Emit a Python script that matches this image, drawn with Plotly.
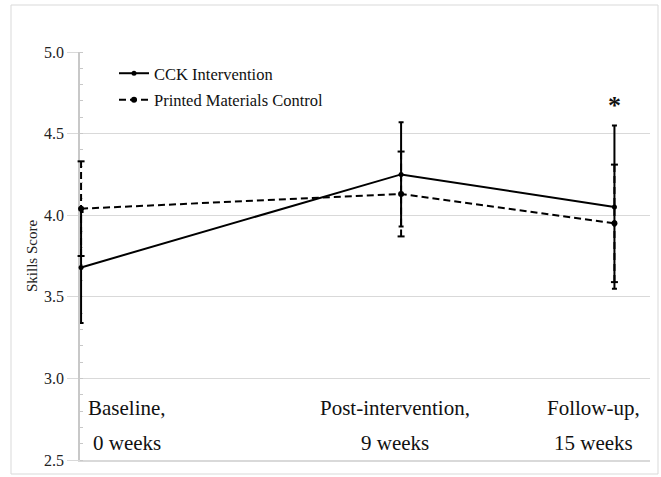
import plotly.graph_objects as go

# ---- data ----
weeks = [0, 9, 15]
label_line1 = ["Baseline,", "Post-intervention,", "Follow-up,"]
label_line2 = ["0 weeks", "9 weeks", "15 weeks"]
cck_mean = [3.68, 4.25, 4.05]
cck_err = [0.34, 0.32, 0.50]
pmc_mean = [4.04, 4.13, 3.95]
pmc_err = [0.29, 0.26, 0.36]
series_names = ["CCK Intervention", "Printed Materials Control"]
y_ticks = [2.5, 3.0, 3.5, 4.0, 4.5, 5.0]
signif_week = 15
signif_mark = "*"

FONT = "Liberation Serif"
GRID = "#d9d9d9"

# dashed error bar segments for PMC (built from data)
pmc_ex, pmc_ey = [], []
for w, m, e in zip(weeks, pmc_mean, pmc_err):
    pmc_ex += [w, w, None]
    pmc_ey += [m - e, m + e, None]

fig = go.Figure()

fig.add_trace(go.Scatter(
    x=pmc_ex, y=pmc_ey, mode="lines+markers", showlegend=False, hoverinfo="skip",
    line=dict(color="black", width=2, dash="7px,4px"),
    marker=dict(symbol="line-ew", size=5, line=dict(color="black", width=2)),
    cliponaxis=False,
))

fig.add_trace(go.Scatter(
    x=weeks, y=pmc_mean, mode="lines+markers", name=series_names[1],
    legendgroup="b", legendrank=2,
    line=dict(color="black", width=2, dash="7px,4px"),
    marker=dict(symbol="circle", size=6, color="black"),
    cliponaxis=False,
))

fig.add_trace(go.Scatter(
    x=weeks, y=cck_mean, mode="lines+markers", name=series_names[0],
    legendgroup="a", legendrank=1,
    line=dict(color="black", width=2),
    marker=dict(symbol="circle", size=5, color="black"),
    error_y=dict(type="data", array=cck_err, visible=True, color="black",
                 thickness=2, width=2.5),
    cliponaxis=False,
))

annotations = []
shifts = [46, -6, -21]
for w, l1, l2, s in zip(weeks, label_line1, label_line2, shifts):
    annotations.append(dict(x=w, y=2.82, xref="x", yref="y", text=l1, showarrow=False,
                            xanchor="center", yanchor="middle", xshift=s,
                            font=dict(family=FONT, size=21, color="#111")))
    annotations.append(dict(x=w, y=2.604, xref="x", yref="y", text=l2, showarrow=False,
                            xanchor="center", yanchor="middle", xshift=s,
                            font=dict(family=FONT, size=21, color="#111")))
annotations.append(dict(x=signif_week, y=4.67, xref="x", yref="y", text="<b>" + signif_mark + "</b>",
                        showarrow=False, xanchor="center", yanchor="middle",
                        font=dict(family=FONT, size=26, color="#111")))

L, R, T, B = 80, 11, 52, 17
W, H = 661, 477
pw, ph = W - L - R, H - T - B

def px_x(p):
    return (p - L) / pw

def px_y(p):
    return (H - B - p) / ph

fig.update_layout(
    width=W, height=H,
    margin=dict(l=L, r=R, t=T, b=B, autoexpand=False),
    paper_bgcolor="white", plot_bgcolor="white",
    font=dict(family=FONT, color="#222"),
    showlegend=True,
    legend=dict(x=px_x(114), y=px_y(56), xanchor="left", yanchor="top",
                bgcolor="rgba(0,0,0,0)", font=dict(family=FONT, size=16.5, color="#111"),
                tracegroupgap=2, traceorder="grouped"),
    annotations=annotations,
    shapes=[dict(type="rect", xref="paper", yref="paper",
                 x0=px_x(11), x1=px_x(658), y0=px_y(474), y1=px_y(5),
                 line=dict(color=GRID, width=1), fillcolor="rgba(0,0,0,0)", layer="below")],
)

fig.update_xaxes(range=[-0.03, 16], showgrid=False, zeroline=False, showticklabels=False,
                 ticks="", showline=True, linecolor=GRID, linewidth=1.5, automargin=False,
                 layer="below traces")
fig.update_yaxes(range=[2.5, 5.0], tickvals=y_ticks, tickformat=".1f", automargin=False,
                 showgrid=True, gridcolor=GRID, gridwidth=1, zeroline=False,
                 showline=True, linecolor="#c8c8c8", linewidth=1.5, layer="below traces",
                 ticks="outside", ticklen=11, tickcolor=GRID, tickwidth=1,
                 minor=dict(dtick=0.1, ticks="inside", ticklen=3, tickcolor="#c8c8c8", showgrid=False),
                 tickfont=dict(family=FONT, size=16, color="#222"),
                 title=dict(text="Skills Score", font=dict(family=FONT, size=15, color="#222"), standoff=3))

fig.write_html("out.html", config={"displayModeBar": False},
               post_script="document.body.style.margin='0';document.body.style.overflow='hidden';")
